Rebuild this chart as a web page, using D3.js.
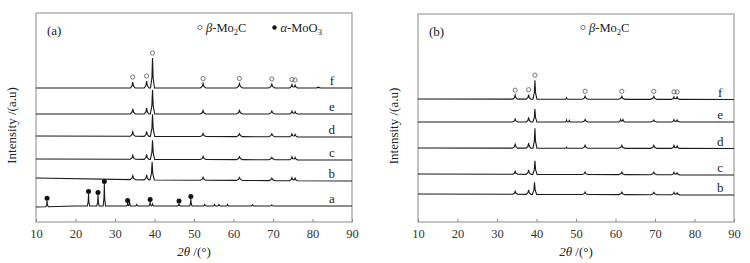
<!DOCTYPE html>
<html><head><meta charset="utf-8">
<script src="https://cdn.jsdelivr.net/npm/d3@7/dist/d3.min.js"></script>
<style>
html,body{margin:0;padding:0;background:#fff;}
svg{display:block;font-family:"Liberation Serif","Times New Roman",serif;}
</style></head>
<body><svg id="c" width="750" height="263"></svg>
<script>
// ---------- data ----------
const xTicks = [10,20,30,40,50,60,70,80,90];
const xDomain = [10,90];

// panel (a): labels, baselines [2θ, level], peaks [2θ, height, halfwidth]
const labelsA = ["a","b","c","d","e","f"];
const baseA_a = [[10,15],[20,16],[90,16]];
const baseA_b = [[10,44],[40,42],[90,41]];
const baseA_c = [[10,63],[90,62]];
const baseA_d = [[10,86],[90,85]];
const baseA_e = [[10,108],[90,108]];
const baseA_f = [[10,134],[90,134]];
const peaksA_a = [[12.8,6,0.3],[23.3,12,0.3],[25.7,11,0.3],[27.3,22,0.3],[33.2,3,0.3],[33.7,4,0.3],[35.5,1.5,0.3],[38.9,4,0.3],[39.5,2,0.3],[46.2,2.5,0.3],[49.2,7,0.3],[52.7,1.5,0.3],[55.2,1.5,0.3],[56.3,1.5,0.3],[58.5,1.5,0.3],[64.8,1.2,0.4],[69.7,1,0.4]];
const peaksA_b = [[34.5,4,0.65],[38.0,5,0.6],[39.4,18,0.55],[52.3,3,0.7],[61.5,3,0.8],[69.7,2.5,0.8],[74.8,3,0.6],[75.6,2.5,0.6]];
const peaksA_c = [[34.5,4,0.65],[38.0,5,0.6],[39.5,19,0.55],[52.3,3,0.7],[61.5,3,0.8],[69.7,2.5,0.8],[74.8,3,0.6],[75.6,2.5,0.6]];
const peaksA_d = [[34.5,4.5,0.65],[38.0,5,0.6],[39.5,22,0.55],[52.3,3,0.7],[61.5,3,0.8],[69.7,3,0.8],[74.8,3,0.6],[75.6,2.5,0.6]];
const peaksA_e = [[34.5,5,0.65],[38.0,6,0.6],[39.5,24,0.55],[52.3,3.5,0.7],[61.5,3.5,0.8],[69.7,3,0.8],[74.8,3,0.6],[75.6,2.5,0.6]];
const peaksA_f = [[34.5,6,0.6],[38.0,7,0.6],[39.5,30,0.5],[52.3,4.5,0.7],[61.5,4.5,0.8],[69.7,4,0.8],[74.8,3.5,0.6],[75.6,3,0.6],[81.5,1,0.6]];
const circlesA = [34.5,38.0,39.5,52.3,61.5,69.7,74.8,75.6];   // β-Mo2C marks on f
const dotsA = [12.8,23.3,25.7,27.3,33.2,38.9,46.2,49.2];       // α-MoO3 marks on a

// panel (b)
const labelsB = ["b","c","d","e","f"];
const baseB_b = [[10,28],[90,27]];
const baseB_c = [[10,48],[90,47]];
const baseB_d = [[10,74],[90,73.5]];
const baseB_e = [[10,100],[90,100]];
const baseB_f = [[10,123],[90,122.5]];
const peaksB_b = [[34.6,3,0.65],[38.0,4.5,0.6],[39.5,12,0.55],[52.3,2.5,0.7],[61.6,2.5,0.8],[69.7,2.5,0.8],[74.8,2.5,0.6],[75.6,2,0.6]];
const peaksB_c = [[34.6,3,0.65],[38.0,4.5,0.6],[39.6,13.5,0.55],[52.3,2.5,0.7],[61.6,2.5,0.8],[69.7,2.5,0.8],[74.8,2.5,0.6],[75.6,2,0.6]];
const peaksB_d = [[34.6,4,0.65],[38.0,5,0.6],[39.6,20,0.5],[47.6,1,0.3],[52.3,3,0.7],[61.6,3,0.8],[69.7,3,0.8],[74.8,3,0.6],[75.6,2.5,0.6]];
const peaksB_e = [[34.6,3,0.65],[38.0,4.5,0.6],[39.6,13,0.5],[47.6,2,0.3],[48.3,1.5,0.3],[52.3,2.5,0.7],[61.3,2.5,0.5],[61.9,2.5,0.5],[69.7,2,0.8],[74.8,2.5,0.6],[75.6,2,0.6]];
const peaksB_f = [[34.6,4,0.6],[38.0,4.5,0.6],[39.6,19,0.5],[47.6,1.5,0.3],[52.3,3,0.7],[61.6,3,0.8],[69.7,3,0.8],[74.8,2.5,0.6],[75.6,2.5,0.6]];
const circlesB = [34.6,38.0,39.6,52.3,61.6,69.7,74.8,75.6];

// ---------- drawing ----------
const svg = d3.select("#c");
const ink = "#1a1a1a";

function profile(base, peaks){
  const bs = d3.scaleLinear().domain(base.map(d=>d[0])).range(base.map(d=>d[1]));
  const shape = t => { t=Math.abs(t); if(t>=1) return 0; if(t<0.3) return 1-(1-0.35)*t/0.3; return 0.35*(1-t)/0.7; };
  const val = x => bs(x) + d3.sum(peaks, p => p[1]*shape((x-p[0])/p[2]));
  let xs = [xDomain[0], xDomain[1]].concat(base.map(d=>d[0]));
  peaks.forEach(p => { xs.push(p[0]-p[2], p[0]-0.3*p[2], p[0], p[0]+0.3*p[2], p[0]+p[2]); });
  xs = Array.from(new Set(xs.filter(x=>x>=xDomain[0]&&x<=xDomain[1]))).sort((a,b)=>a-b);
  return {pts: xs.map(x=>[x,val(x)]), val};
}

function panel(cfg){
  const g = svg.append("g");
  const x = d3.scaleLinear().domain(xDomain).range([cfg.left, cfg.right]);
  const y = d3.scaleLinear().domain([0, cfg.bottom-cfg.top]).range([cfg.bottom, cfg.top]);
  const line = d3.line().x(d=>x(d[0])).y(d=>y(d[1]));

  const ax = g.append("g").attr("transform",`translate(0,${cfg.bottom})`)
    .call(d3.axisBottom(x).tickValues(xTicks).tickSizeInner(-3).tickSizeOuter(0).tickPadding(7).tickFormat(d3.format("d")));
  ax.select(".domain").remove();
  ax.selectAll(".tick line").attr("stroke","#888");
  ax.selectAll(".tick text").attr("fill","#333").attr("font-size","12.5px").attr("font-family","Liberation Serif");
  g.append("rect").attr("x",cfg.left).attr("y",cfg.top).attr("width",cfg.right-cfg.left).attr("height",cfg.bottom-cfg.top)
    .attr("fill","none").attr("stroke","#8a8a8a").attr("stroke-width",1);

  const profs = cfg.series.map(s => profile(s.base, s.peaks));
  cfg.series.forEach((s,i) => {
    g.append("path").attr("d", line(profs[i].pts)).attr("fill","none").attr("stroke",ink).attr("stroke-width",1.1);
    g.append("text").attr("x", x(cfg.labelX)).attr("y", y(s.base[s.base.length-1][1]) - 3)
      .attr("text-anchor","middle").attr("font-size","13px").attr("fill","#222").text(s.label);
  });

  const top = profs[profs.length-1].val;
  cfg.circles.forEach(t => {
    g.append("circle").attr("cx", x(t)).attr("cy", y(top(t)) - 5).attr("r",2.1)
      .attr("fill","none").attr("stroke","#555").attr("stroke-width",0.8);
  });
  if (cfg.dots){
    const low = profs[0].val;
    cfg.dots.forEach(t => {
      g.append("circle").attr("cx", x(t)).attr("cy", y(low(t)) - 2.5).attr("r",2.5).attr("fill","#111");
    });
  }

  g.append("text").attr("x", cfg.left+11).attr("y", cfg.top+22).attr("font-size","13px").attr("fill","#222").text(cfg.tag);

  const lg = g.append("g");
  cfg.legend.forEach(L => {
    lg.append("circle").attr("cx", L.cx).attr("cy", 27.5).attr("r", L.filled?2.2:2.1)
      .attr("fill", L.filled?"#111":"none").attr("stroke", L.filled?"none":"#555").attr("stroke-width",0.8);
    const t = lg.append("text").attr("x", L.cx+6).attr("y", 32).attr("font-size","12.5px").attr("fill","#222");
    t.append("tspan").attr("font-style","italic").text(L.greek);
    t.append("tspan").text("-Mo" + L.mid);
    t.append("tspan").attr("font-size","8.5px").attr("dy",3).text(L.sub);
    t.append("tspan").attr("dy",-3).text(L.tail);
  });

  const xt = g.append("text").attr("x",(cfg.left+cfg.right)/2).attr("y",256).attr("text-anchor","middle")
    .attr("font-size","13px").attr("fill","#222");
  xt.append("tspan").attr("font-style","italic").text("2θ");
  xt.append("tspan").text(" /(°)");
  g.append("text").attr("transform",`translate(${cfg.left-20},${(cfg.top+cfg.bottom)/2 + 8}) rotate(-90)`)
    .attr("text-anchor","middle").attr("font-size","13px").attr("fill","#222").text("Intensity /(a.u)");
}

panel({
  left:36, right:352, top:13, bottom:222, tag:"(a)", labelX:84.9,
  series:[
    {label:labelsA[0], base:baseA_a, peaks:peaksA_a},
    {label:labelsA[1], base:baseA_b, peaks:peaksA_b},
    {label:labelsA[2], base:baseA_c, peaks:peaksA_c},
    {label:labelsA[3], base:baseA_d, peaks:peaksA_d},
    {label:labelsA[4], base:baseA_e, peaks:peaksA_e},
    {label:labelsA[5], base:baseA_f, peaks:peaksA_f}
  ],
  circles:circlesA, dots:dotsA,
  legend:[{cx:200, filled:false, greek:"β", mid:"", sub:"2", tail:"C"},
          {cx:274.5, filled:true, greek:"α", mid:"O", sub:"3", tail:""}]
});
panel({
  left:418, right:734, top:14, bottom:222, tag:"(b)", labelX:86.5,
  series:[
    {label:labelsB[0], base:baseB_b, peaks:peaksB_b},
    {label:labelsB[1], base:baseB_c, peaks:peaksB_c},
    {label:labelsB[2], base:baseB_d, peaks:peaksB_d},
    {label:labelsB[3], base:baseB_e, peaks:peaksB_e},
    {label:labelsB[4], base:baseB_f, peaks:peaksB_f}
  ],
  circles:circlesB, dots:null,
  legend:[{cx:583, filled:false, greek:"β", mid:"", sub:"2", tail:"C"}]
});
</script></body></html>
